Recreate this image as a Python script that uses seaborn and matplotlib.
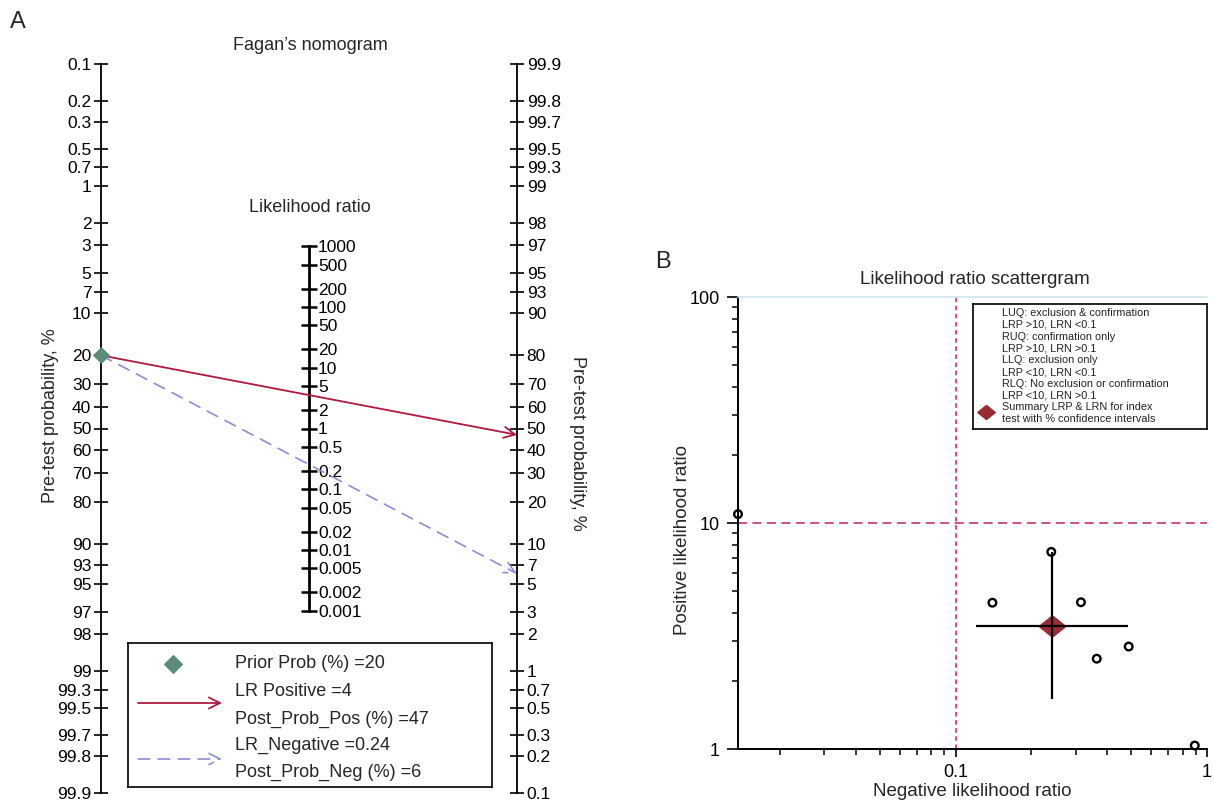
import numpy as np
import matplotlib.pyplot as plt
import seaborn as sns

sns.set_style("white")
plt.rcParams['font.family'] = ['Liberation Sans', 'DejaVu Sans']

# ---- panel A: Fagan nomogram data
pre_ticks = [0.1, 0.2, 0.3, 0.5, 0.7, 1, 2, 3, 5, 7, 10, 20, 30, 40, 50, 60, 70,
             80, 90, 93, 95, 97, 98, 99, 99.3, 99.5, 99.7, 99.8, 99.9]
post_ticks = [99.9, 99.8, 99.7, 99.5, 99.3, 99, 98, 97, 95, 93, 90, 80, 70, 60,
              50, 40, 30, 20, 10, 7, 5, 3, 2, 1, 0.7, 0.5, 0.3, 0.2, 0.1]
lr_ticks = [1000, 500, 200, 100, 50, 20, 10, 5, 2, 1, 0.5, 0.2, 0.1, 0.05,
            0.02, 0.01, 0.005, 0.002, 0.001]
prior_prob = 20
lr_pos = 4
lr_neg = 0.24
post_prob_pos = 47
post_prob_neg = 6

# ---- panel B: scattergram data
study_lrn = [0.0136, 0.24, 0.14, 0.315, 0.364, 0.488, 0.894]
study_lrp = [10.95, 7.45, 4.44, 4.46, 2.51, 2.84, 1.036]
summary_lrn = 0.242
summary_lrp = 3.51
summary_lrn_ci = [0.120, 0.483]
summary_lrp_ci = [1.66, 7.45]
legend_lines = ["LUQ: exclusion & confirmation", "LRP >10, LRN <0.1",
                "RUQ: confirmation only", "LRP >10, LRN >0.1",
                "LLQ: exclusion only", "LRP <10, LRN <0.1",
                "RLQ: No exclusion or confirmation", "LRP <10, LRN >0.1",
                "Summary LRP & LRN for index", "test with % confidence intervals"]

RED = '#b3183f'
BLUE = '#8a8ed6'
GREEN = '#5b8c79'
DARKRED = '#9a2a33'
REF = '#cc4470'

W, H = 1214, 802


def logit(pct):
    p = np.asarray(pct, dtype=float) / 100
    return np.log(p / (1 - p))


def fmt(v):
    return '%g' % v


fig = plt.figure(figsize=(W / 100, H / 100), dpi=100)

# ================= A =================
lim = float(logit(99.9))
ax = fig.add_axes([101 / W, 1 - 793 / H, 416 / W, 729 / H])
ax.set_xlim(0, 1)
ax.set_ylim(lim, -lim)
for s in ['top', 'right', 'bottom']:
    ax.spines[s].set_visible(False)
ax.spines['left'].set_linewidth(1.3)
ax.spines['left'].set_color('black')
ax.set_xticks([])
ax.set_yticks(logit(pre_ticks))
ax.set_yticklabels([fmt(v) for v in pre_ticks])
ax.tick_params(axis='y', direction='inout', length=10, width=1.2,
               labelsize=12.5, pad=2, left=True, colors='black')
ax.set_ylabel('Pre-test probability, %', fontsize=13)
ax.yaxis.set_label_coords(-0.1, 0.517)

ax_r = ax.twinx()
ax_r.set_ylim(lim, -lim)
for s in ['top', 'left', 'bottom']:
    ax_r.spines[s].set_visible(False)
ax_r.spines['right'].set_linewidth(1.3)
ax_r.spines['right'].set_color('black')
ax_r.set_yticks(-logit(post_ticks))
ax_r.set_yticklabels([fmt(v) for v in post_ticks])
ax_r.tick_params(axis='y', direction='inout', length=10, width=1.2,
                 labelsize=12.5, pad=2, right=True, colors='black')
ax_r.set_ylabel('Pre-test probability, %', fontsize=13, rotation=270)
ax_r.yaxis.set_label_coords(1.167, 0.48)

ax_m = ax.twinx()
ax_m.set_ylim(lim, -lim)
for s in ['top', 'left', 'bottom']:
    ax_m.spines[s].set_visible(False)
lr_pos_u = -np.log(np.array(lr_ticks)) / 2
ax_m.spines['right'].set_position(('axes', 0.5))
ax_m.spines['right'].set_bounds(lr_pos_u.min(), lr_pos_u.max())
ax_m.spines['right'].set_linewidth(2)
ax_m.spines['right'].set_color('black')
ax_m.set_yticks(lr_pos_u)
ax_m.set_yticklabels([fmt(v) for v in lr_ticks])
ax_m.tick_params(axis='y', direction='inout', length=11, width=1.8,
                 labelsize=12.5, pad=1, right=True, colors='black')

# nomogram lines
u_prior = float(logit(prior_prob))
ax_m.annotate('', xy=(1, -float(logit(post_prob_pos))), xytext=(0, u_prior),
              arrowprops=dict(arrowstyle='->', color=RED, lw=1.3,
                              shrinkA=0, shrinkB=0, mutation_scale=20))
ax_m.annotate('', xy=(1, -float(logit(post_prob_neg))), xytext=(0, u_prior),
              arrowprops=dict(arrowstyle='->', color=BLUE, lw=1.2, ls=(0, (7, 5)),
                              shrinkA=0, shrinkB=0, mutation_scale=20))
sns.scatterplot(x=[0], y=[u_prior], marker='D', s=65, color=GREEN,
                edgecolor=GREEN, ax=ax_m, clip_on=False, zorder=6, legend=False)

fig.text(18 / W, 1 - 22 / H, 'A', fontsize=17, ha='center', va='center')
fig.text(310 / W, 1 - 45 / H, 'Fagan\u2019s nomogram', fontsize=13,
         ha='center', va='center')
fig.text(310 / W, 1 - 207 / H, 'Likelihood ratio', fontsize=13,
         ha='center', va='center')

# legend of panel A (drawn in box pixel units)
lax = fig.add_axes([128 / W, 1 - 787 / H, 364 / W, 144 / H])
lax.set_xlim(0, 364)
lax.set_ylim(144, 0)
lax.set_xticks([])
lax.set_yticks([])
for s in lax.spines.values():
    s.set_linewidth(1.2)
    s.set_color('black')
lax.scatter([45], [21], marker='D', s=80, color=GREEN)
lax.text(107, 21, 'Prior Prob (%) =' + fmt(prior_prob), fontsize=13, va='center')
lax.annotate('', xy=(94, 60), xytext=(10, 60),
             arrowprops=dict(arrowstyle='->', color=RED, lw=1.3,
                             shrinkA=0, shrinkB=0, mutation_scale=20))
lax.text(107, 49, 'LR Positive =' + fmt(lr_pos), fontsize=13, va='center')
lax.text(107, 76, 'Post_Prob_Pos (%) =' + fmt(post_prob_pos), fontsize=13, va='center')
lax.annotate('', xy=(94, 116), xytext=(10, 116),
             arrowprops=dict(arrowstyle='->', color=BLUE, lw=1.2, ls=(0, (7, 5)),
                             shrinkA=0, shrinkB=0, mutation_scale=20))
lax.text(107, 102, 'LR_Negative =' + fmt(lr_neg), fontsize=13, va='center')
lax.text(107, 129, 'Post_Prob_Neg (%) =' + fmt(post_prob_neg), fontsize=13, va='center')

# ================= B =================
ax2 = fig.add_axes([738 / W, 1 - 749 / H, 469 / W, 452 / H])
ax2.set_xscale('log')
ax2.set_yscale('log')
ax2.set_xlim(0.0136, 1)
ax2.set_ylim(1, 100)

ax2.axhline(10, color=REF, ls=(0, (5, 3)), lw=1.3, zorder=1)
ax2.axvline(0.1, color=REF, ls=(0, (2.5, 2)), lw=1.3, zorder=1)

ax2.errorbar([summary_lrn], [summary_lrp],
             xerr=[[summary_lrn - summary_lrn_ci[0]], [summary_lrn_ci[1] - summary_lrn]],
             yerr=[[summary_lrp - summary_lrp_ci[0]], [summary_lrp_ci[1] - summary_lrp]],
             fmt='none', ecolor='black', elinewidth=1.6, capsize=0, zorder=4)
diamond = [(-1, 0), (0, 0.8), (1, 0), (0, -0.8), (-1, 0)]
sns.scatterplot(x=[summary_lrn], y=[summary_lrp], marker=diamond, s=340,
                color=DARKRED, edgecolor=DARKRED, ax=ax2, zorder=3, legend=False)
sns.scatterplot(x=study_lrn, y=study_lrp, marker='o', s=30, facecolor='none',
                edgecolor='black', linewidth=1.7, ax=ax2, zorder=5,
                clip_on=False, legend=False)

for s in ['left', 'bottom']:
    ax2.spines[s].set_color('black')
    ax2.spines[s].set_linewidth(1.4)
ax2.spines['right'].set_visible(False)
ax2.spines['top'].set_color('#cfe6ef')
ax2.spines['top'].set_linewidth(1.2)

ax2.set_yticks([1, 10, 100])
ax2.set_yticklabels(['1', '10', '100'])
ax2.set_xticks([0.1, 1])
ax2.set_xticklabels(['0.1', '1'])
ax2.tick_params(which='major', direction='out', length=6, width=1.2,
                labelsize=13, bottom=True, left=True, colors='black', pad=5)
ax2.tick_params(which='minor', direction='out', length=4, width=1.1,
                bottom=True, left=True, colors='black')
ax2.tick_params(axis='y', which='major', length=8)
ax2.set_xlabel('Negative likelihood ratio', fontsize=13.5, labelpad=1)
ax2.set_ylabel('Positive likelihood ratio', fontsize=13.5)
ax2.yaxis.set_label_coords(-0.1, 0.462)

fig.text(663 / W, 1 - 262 / H, 'B', fontsize=17, ha='center', va='center')
fig.text(975 / W, 1 - 279 / H, 'Likelihood ratio scattergram', fontsize=13.5,
         ha='center', va='center')

# legend of panel B
lax2 = fig.add_axes([973 / W, 1 - 429 / H, 234 / W, 125 / H])
lax2.set_xlim(0, 234)
lax2.set_ylim(125, 0)
lax2.set_xticks([])
lax2.set_yticks([])
lax2.set_facecolor('white')
for s in lax2.spines.values():
    s.set_linewidth(1.2)
    s.set_color('black')
for i, line in enumerate(legend_lines):
    lax2.text(29, 9 + i * 11.8, line, fontsize=7.8, va='center', color='#222222')
lax2.scatter([13], [9 + 8 * 11.8 + 5], marker=diamond, s=160, color=DARKRED)

fig.savefig('out.png', dpi=100)
